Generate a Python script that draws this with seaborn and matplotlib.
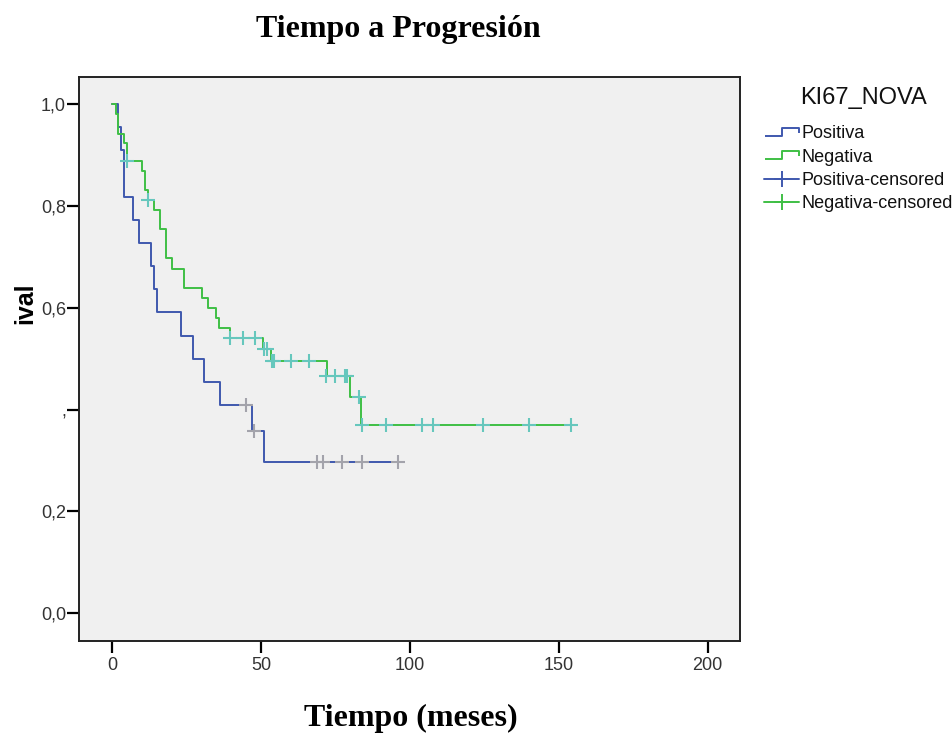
import numpy as np
import pandas as pd
import matplotlib
matplotlib.use('Agg')
import matplotlib.pyplot as plt
from matplotlib.lines import Line2D
from matplotlib.path import Path
import seaborn as sns

# Kaplan-Meier steps (time in months, survival after the step)
pos_t = [0, 2.0, 3.0, 4.0, 7.1, 9.0, 13.0, 14.0, 15.1, 23.0, 27.0, 30.9, 36.2, 47.0, 51.0, 96.1]
pos_s = [1.0, 0.955, 0.909, 0.818, 0.773, 0.727, 0.682, 0.636, 0.591, 0.545, 0.500, 0.455,
         0.409, 0.358, 0.298, 0.298]
pos_cens_t = [44.9, 47.7, 68.9, 70.9, 77.1, 84.0, 96.1]
pos_cens_s = [0.409, 0.358, 0.298, 0.298, 0.298, 0.298, 0.298]

neg_t = [0, 1.2, 2.0, 4.0, 5.0, 10.1, 11.0, 12.0, 14.0, 16.0, 18.0, 20.0, 24.0, 30.0, 32.0,
         35.0, 36.0, 39.5, 50.5, 53.4, 72.0, 80.0, 83.7, 154.0]
neg_s = [1.0, 0.980, 0.942, 0.924, 0.888, 0.868, 0.831, 0.812, 0.793, 0.754, 0.697, 0.677,
         0.638, 0.619, 0.600, 0.580, 0.561, 0.541, 0.520, 0.496, 0.466, 0.424, 0.370, 0.370]
neg_cens_t = [5.0, 12.1, 39.6, 44.0, 47.9, 50.8, 51.9, 53.6, 54.3, 59.9, 66.0, 71.8, 74.8,
              78.2, 79.0, 83.0, 83.8, 91.9, 103.9, 107.8, 124.6, 139.9, 154.0]
neg_cens_s = [0.888, 0.812, 0.541, 0.541, 0.541, 0.520, 0.520, 0.496, 0.496, 0.496, 0.496,
              0.466, 0.466, 0.466, 0.466, 0.424, 0.370, 0.370, 0.370, 0.370, 0.370, 0.370, 0.370]

groups = ['Positiva', 'Negativa']
y_ticks = [0.0, 0.2, 0.4, 0.6, 0.8, 1.0]
y_ticklabels = ['0,0', '0,2', ',', '0,6', '0,8', '1,0']
x_ticks = [0, 50, 100, 150, 200]

blue = '#3f58ae'
green = '#3fbf45'
blue_cens = '#a3a3ab'
green_cens = '#66c7bd'

sns.set_theme(style='ticks')
plt.rcParams['font.family'] = ['Liberation Sans', 'DejaVu Sans']

fig = plt.figure(figsize=(9.52, 7.33), dpi=100)
ax = fig.add_axes([0.0833, 0.1259, 0.6940, 0.7695])
ax.set_facecolor('#f0f0f0')

sns.lineplot(x=pos_t, y=pos_s, drawstyle='steps-post', estimator=None, sort=False,
             color=blue, lw=1.4, ax=ax)
sns.lineplot(x=neg_t, y=neg_s, drawstyle='steps-post', estimator=None, sort=False,
             color=green, lw=1.4, ax=ax)
sns.scatterplot(x=pos_cens_t, y=pos_cens_s, marker='+', s=90, linewidth=1.5,
                color=blue_cens, ax=ax, zorder=3)
sns.scatterplot(x=neg_cens_t, y=neg_cens_s, marker='+', s=90, linewidth=1.5,
                color=green_cens, ax=ax, zorder=3)

ax.set_xlim(-11.1, 210.9)
ax.set_ylim(-0.054, 1.054)
ax.set_xticks(x_ticks)
ax.set_xticklabels([str(v) for v in x_ticks])
ax.set_yticks(y_ticks)
ax.set_yticklabels(y_ticklabels)
ax.tick_params(axis='both', length=8.5, width=1.6, color='black', labelsize=13,
               labelcolor='#333333')
ax.tick_params(axis='x', pad=3)
ax.tick_params(axis='y', pad=1)
for sp in ax.spines.values():
    sp.set_color('#222222')
    sp.set_linewidth(1.4)
ax.set_xlabel('')
ax.set_ylabel('')

fig.text(398 / 952, 1 - 29 / 733, 'Tiempo a Progresión', ha='center', va='center',
         fontsize=23, fontweight='bold', family='Liberation Serif', color='black')
fig.text(411 / 952, 1 - 718 / 733, 'Tiempo (meses)', ha='center', va='center',
         fontsize=23, fontweight='bold', family='Liberation Serif', color='black')
fig.text(25 / 952, 1 - 303 / 733, 'ival', ha='center', va='center', rotation=90,
         fontsize=18, fontweight='bold', color='black')

# legend
step = Path([(-1, -0.25), (0, -0.25), (0, 0.25), (1, 0.25), (1, -0.05)])
handles = [
    Line2D([], [], color=blue, marker=step, markersize=25, lw=0, markerfacecolor='none',
           markeredgewidth=1.4),
    Line2D([], [], color=green, marker=step, markersize=25, lw=0, markerfacecolor='none',
           markeredgewidth=1.4),
    Line2D([], [], color=blue, marker='+', markersize=11, lw=1.4, markeredgewidth=1.4),
    Line2D([], [], color=green, marker='+', markersize=11, lw=1.4, markeredgewidth=1.4),
]
labels = groups + [g + '-censored' for g in groups]
fig.text(800 / 952, 1 - 98 / 733, 'KI67_NOVA', ha='left', va='center', fontsize=17,
         color='#111111')
fig.legend(handles, labels, loc='upper left', bbox_to_anchor=(764 / 952, 1 - 125 / 733),
           frameon=False, fontsize=13, handlelength=1.95, handletextpad=0.15,
           labelspacing=0.36, borderpad=0, borderaxespad=0, numpoints=1,
           labelcolor='#111111')

fig.savefig('out.png', dpi=100)
